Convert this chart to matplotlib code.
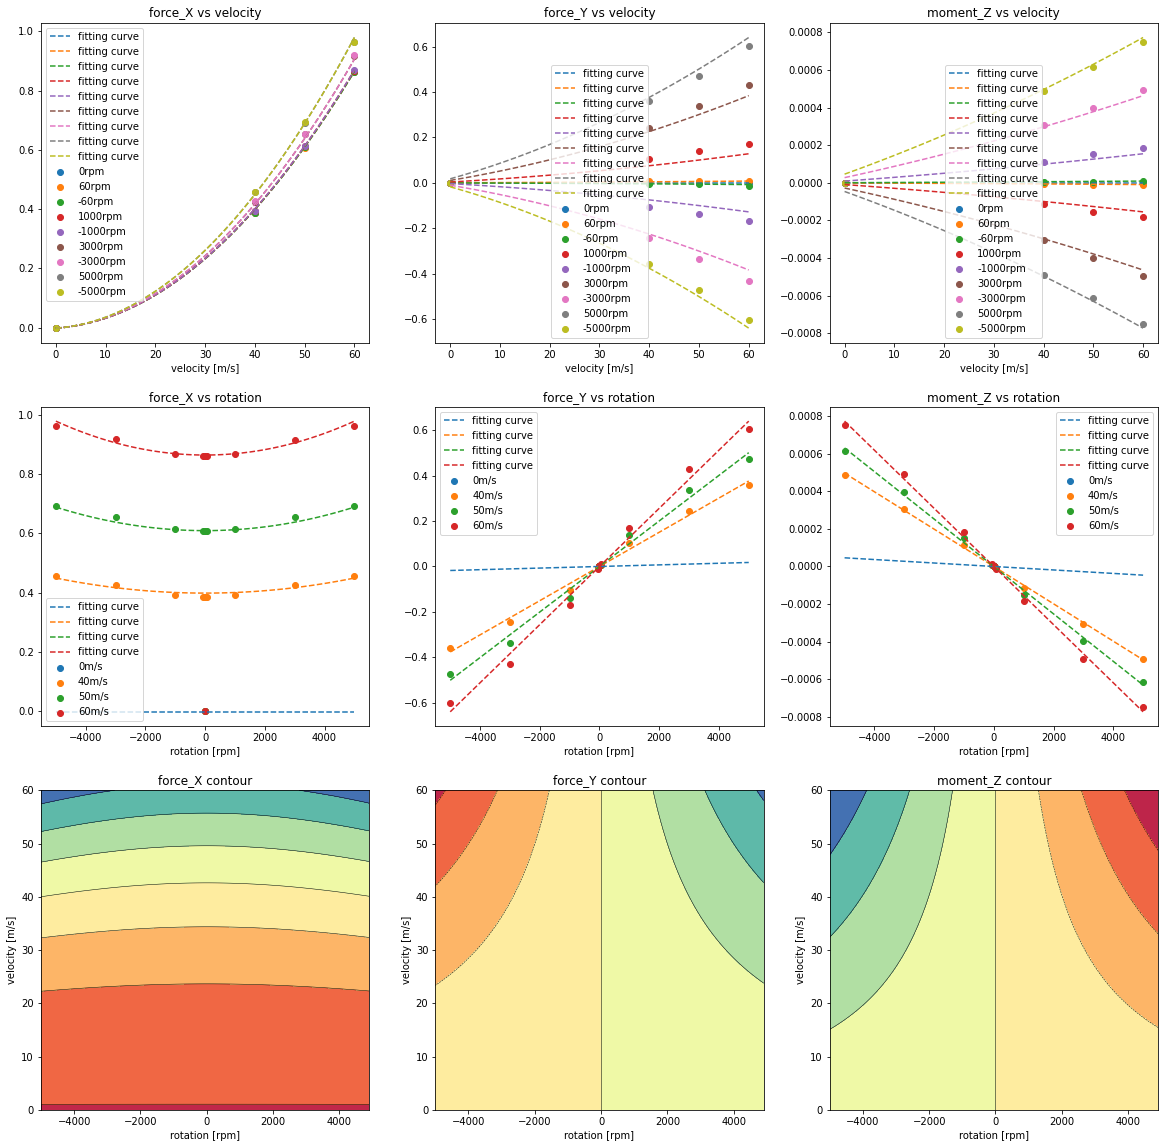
import numpy as np
import matplotlib
matplotlib.use("Agg")
import matplotlib.pyplot as plt

# Messpunkte
velocities = [0, 40, 50, 60]          # m/s
rpms = [0, 60, -60, 1000, -1000, 3000, -3000, 5000, -5000]

# Werte bei 40, 50, 60 m/s, Reihenfolge wie rpms; bei 0 m/s nur ein Nullpunkt (0 rpm)
fx_40 = [0.386, 0.386, 0.386, 0.392, 0.392, 0.425, 0.426, 0.458, 0.458]
fx_50 = [0.608, 0.607, 0.608, 0.614, 0.614, 0.655, 0.655, 0.692, 0.693]
fx_60 = [0.863, 0.863, 0.863, 0.867, 0.868, 0.917, 0.919, 0.963, 0.963]

fy_40 = [0.0, 0.006, -0.006, 0.103, -0.105, 0.243, -0.245, 0.360, -0.359]
fy_50 = [0.0, 0.007, -0.007, 0.138, -0.137, 0.336, -0.335, 0.4715, -0.4735]
fy_60 = [0.0, 0.010, -0.012, 0.169, -0.168, 0.431, -0.430, 0.604, -0.603]

mz_40 = [0.0, -7e-6, 7e-6, -1.15e-4, 1.12e-4, -3.05e-4, 3.05e-4, -4.89e-4, 4.88e-4]
mz_50 = [0.0, -9e-6, 7e-6, -1.53e-4, 1.51e-4, -3.97e-4, 3.95e-4, -6.14e-4, 6.13e-4]
mz_60 = [0.0, -1.4e-5, 1.2e-5, -1.84e-4, 1.83e-4, -4.93e-4, 4.92e-4, -7.48e-4, 7.49e-4]

nullpunkt = 0.0   # Messwert bei 0 m/s und 0 rpm

daten = {
    "force_X": [fx_40, fx_50, fx_60],
    "force_Y": [fy_40, fy_50, fy_60],
    "moment_Z": [mz_40, mz_50, mz_60],
}


def basis(name, v, r):
    r = r / 1000.0
    if name == "force_X":
        return np.stack([np.ones_like(v), v, v**2, v**2 * r**2], axis=-1)
    return np.stack([r, r * v, r * v**2], axis=-1)


def fitten(name):
    # alle Messpunkte: Nullpunkt + 3 Geschwindigkeiten x 9 Drehzahlen
    v_l, r_l, y_l = [0.0], [0.0], [nullpunkt]
    for j, v in enumerate(velocities[1:]):
        for i, rpm in enumerate(rpms):
            v_l.append(float(v))
            r_l.append(float(rpm))
            y_l.append(daten[name][j][i])
    A = basis(name, np.array(v_l), np.array(r_l))
    return np.linalg.lstsq(A, np.array(y_l), rcond=None)[0]


def modell(name, coef, v, r):
    v, r = np.broadcast_arrays(np.asarray(v, float), np.asarray(r, float))
    return basis(name, v, r) @ coef


namen = ["force_X", "force_Y", "moment_Z"]
koeff = {n: fitten(n) for n in namen}

fig, axs = plt.subplots(3, 3, figsize=(1167 / 72, 1148 / 72), dpi=72)
fig.subplots_adjust(left=0.0351, right=0.9923, top=0.98, bottom=0.0331,
                    wspace=0.201, hspace=0.2)

v_fein = np.linspace(0, 60, 61)
r_fein = np.linspace(-5000, 5000, 101)
legend_oben = ["upper left", "lower center", "lower center"]
legend_mitte = ["lower left", "upper left", "upper right"]

for k, n in enumerate(namen):
    # Zeile 1: ueber Geschwindigkeit
    ax = axs[0, k]
    for i, rpm in enumerate(rpms):
        ax.plot(v_fein, modell(n, koeff[n], v_fein, rpm), "--", color="C%d" % i,
                label="fitting curve")
    for i, rpm in enumerate(rpms):
        y = [nullpunkt] + [daten[n][j][i] for j in range(3)]
        ax.scatter(velocities, y, color="C%d" % i, label=str(rpm) + "rpm")
    ax.set_title(n + " vs velocity")
    ax.set_xlabel("velocity [m/s]")
    ax.legend(loc=legend_oben[k])

    # Zeile 2: ueber Drehzahl
    ax = axs[1, k]
    for j, v in enumerate(velocities):
        ax.plot(r_fein, modell(n, koeff[n], v, r_fein), "--", color="C%d" % j,
                label="fitting curve")
    for j, v in enumerate(velocities):
        if v == 0:
            x, y = [0], [nullpunkt]
        else:
            x, y = [0] + rpms, [nullpunkt] + list(daten[n][j - 1])
        ax.scatter(x, y, color="C%d" % j, label=str(v) + "m/s")
    ax.set_title(n + " vs rotation")
    ax.set_xlabel("rotation [rpm]")
    ax.legend(loc=legend_mitte[k])

    # Zeile 3: Konturplot des Modells
    ax = axs[2, k]
    rr, vv = np.meshgrid(np.arange(-5000, 5000, 100), np.arange(0, 61, 1))
    zz = modell(n, koeff[n], vv, rr)
    ax.contourf(rr, vv, zz, cmap="Spectral")
    ax.contour(rr, vv, zz, colors="k", linewidths=0.5)
    ax.set_title(n + " contour")
    ax.set_xlabel("rotation [rpm]")
    ax.set_ylabel("velocity [m/s]")

fig.savefig("out.png", dpi=72)
